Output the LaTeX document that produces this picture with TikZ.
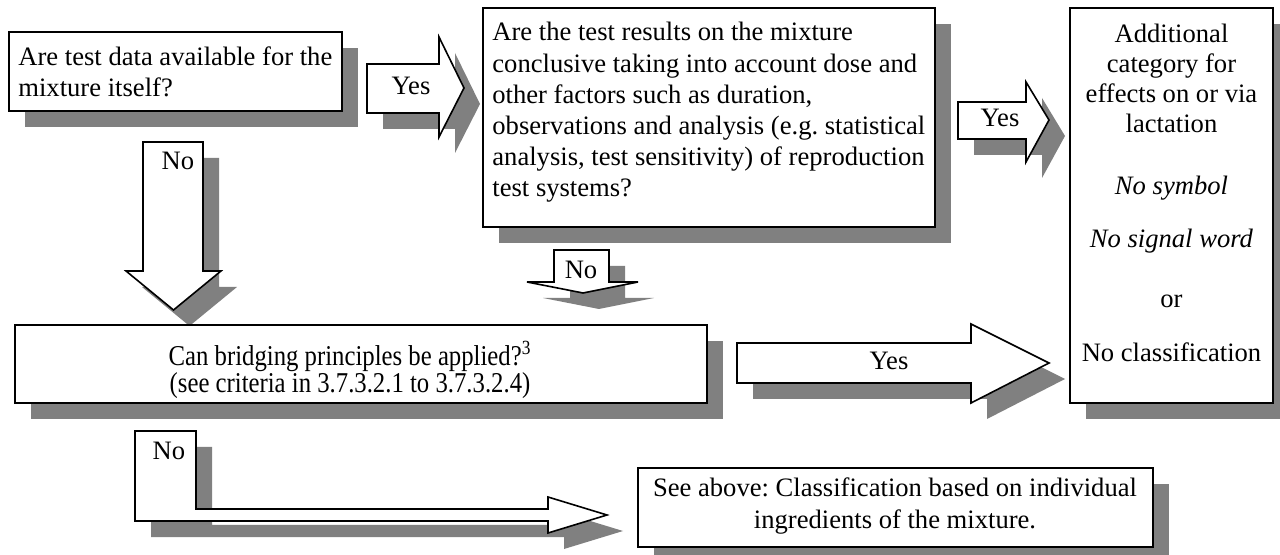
\documentclass[tikz,border=0pt]{standalone}
\usepackage{fontspec}
\usepackage{graphicx}
\setmainfont{Liberation Serif}
\usetikzlibrary{shadows}
\definecolor{shadowgray}{RGB}{128,128,128}
\frenchspacing
\begin{document}
\frenchspacing
\begin{tikzpicture}[x=0.5pt,y=-0.5pt,
  font=\fontsize{13.3}{15.6}\selectfont,
  sh/.style={drop shadow={shadow xshift=8pt,shadow yshift=-8pt,fill=shadowgray,opacity=1}},
  box/.style={draw=black,line width=0.8pt,fill=white,inner sep=0pt,sh},
  blockarrow/.style={draw=black,line width=0.8pt,fill=white,line join=miter,sh},
  lbl/.style={inner sep=0pt},
  txt/.style={inner sep=0pt}]
\fill[white] (0,0) rectangle (1280,555);
\useasboundingbox (0,0) rectangle (1280,555);

% boxes
\node[box,minimum width=166.5pt,minimum height=39.5pt] (A) at (175.5,71.5) {};
\node[box,minimum width=226pt,minimum height=109.5pt] (B) at (709,117.5) {};
\node[box,minimum width=101.5pt,minimum height=197.5pt] (C) at (1171.5,205.5) {};

% Yes arrow A -> B
\draw[blockarrow] (367,64) -- (439,64) -- (439,37) -- (464,88) -- (439,137) -- (439,113) -- (367,113) -- cycle;
\node[lbl] (yes1) at (411,86.2) {Yes};
% Yes arrow B -> C
\draw[blockarrow] (958,102) -- (1026,102) -- (1026,82) -- (1049,120) -- (1026,162) -- (1026,139) -- (958,139) -- cycle;
\node[lbl] (yes2) at (1000,118.2) {Yes};
% No arrow A -> D
\draw[blockarrow] (143,142) -- (203,142) -- (203,271) -- (221,271) -- (173.5,310) -- (126,271) -- (143,271) -- cycle;
\node[lbl] (no1) at (178,161.2) {No};
% No arrow B -> D
\draw[blockarrow] (554,250) -- (609,250) -- (609,282) -- (638,282) -- (583,293) -- (527,282) -- (554,282) -- cycle;
\node[lbl] (no2) at (581,269.5) {No};

\node[box,minimum width=346pt,minimum height=39pt] (D) at (361,364) {};

% Yes arrow D -> C
\draw[blockarrow] (737,343) -- (971,343) -- (971,324) -- (1049,363) -- (971,403) -- (971,383) -- (737,383) -- cycle;
\node[lbl] (yes3) at (889,361.2) {Yes};
% No arrow D -> E
\draw[blockarrow] (135,431) -- (196,431) -- (196,509) -- (548,509) -- (548,497) -- (607,515) -- (548,533) -- (548,521) -- (135,521) -- cycle;
\node[lbl] (no3) at (169,451.2) {No};

\node[box,minimum width=257.5pt,minimum height=39.5pt] (E) at (895.5,507.5) {};

% texts
\node[txt,anchor=west,align=left] (At) at (18,71.9) {Are test data available for the\\mixture itself?};
\node[txt,anchor=west,align=left] (Bt) at (492,112.5) {Are the test results on the mixture\\conclusive taking into account dose and\\other factors such as duration,\\observations and analysis (e.g. statistical\\analysis, test sensitivity) of reproduction\\test systems?};
\node[txt,align=center,font=\fontsize{13.3}{15}\selectfont] (Ct) at (1171.5,193.4) {Additional\\category for\\effects on or via\\lactation\\[16pt]\textit{No symbol}\\[11.5pt]\textit{No signal word}\\[15pt]or\\[12pt]No classification};
\node[txt] (Dt) at (350,370.5) {\scalebox{0.93}[1.08]{\fontsize{13.3}{11.6}\selectfont\begin{tabular}{@{}c@{}}Can bridging principles be applied?\textsuperscript{3}\\(see criteria in 3.7.3.2.1 to 3.7.3.2.4)\end{tabular}}};
\node[txt,align=center] (Et) at (895,506) {See above: Classification based on individual\\ingredients of the mixture.};
\end{tikzpicture}
\end{document}
